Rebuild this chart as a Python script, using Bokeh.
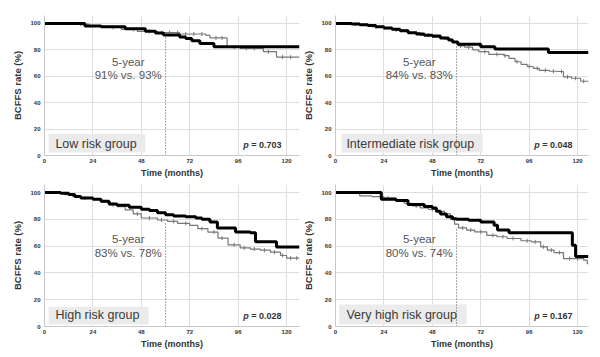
import numpy as np
from bokeh.plotting import figure
from bokeh.models import Range1d, BoxAnnotation, Label, FixedTicker
from bokeh.layouts import column, row
from bokeh.embed import file_html
from bokeh.resources import INLINE

# ---------------- data ----------------
groups = ["Low risk group", "Intermediate risk group", "High risk group", "Very high risk group"]
p_values = ["0.703", "0.048", "0.028", "0.167"]
five_yr_black = [91, 84, 83, 80]
five_yr_gray = [93, 83, 78, 74]
x_ticks = [0, 24, 48, 72, 96, 120]
y_ticks = [0, 20, 40, 60, 80, 100]

# Low risk
low_t_black = [0, 20, 28, 40, 50, 55, 59, 67, 70, 73, 77, 84]
low_s_black = [100, 98, 97.5, 96, 94, 92.8, 91.3, 89.8, 88.6, 86.8, 84.8, 82.3]
low_t_gray = [0, 14, 22, 30, 38, 46, 56, 67, 80, 82, 90.5, 97, 108.5, 115]
low_s_gray = [100, 99.5, 98, 97, 95.5, 94, 93, 92, 91, 89, 82, 81, 78.6, 74.5]
low_cens = [18, 34, 44, 52, 58, 62, 66, 70, 74, 78, 85, 88, 94, 100, 104, 111, 118, 122]

# Intermediate risk
int_t_black = [0, 8, 12, 16, 20, 24, 28, 32, 36, 40, 44, 48, 52, 56, 58, 60.6, 72, 79, 105.5]
int_s_black = [100, 99.5, 99, 98.5, 97.5, 96.5, 95.5, 94.5, 93, 92, 91, 90.5, 89, 87.5, 86, 84.2, 82.3, 80.6, 78]
int_t_gray = [0, 6, 12, 18, 24, 30, 36, 42, 48, 54, 58, 61, 64, 68, 71, 76, 83.5, 86, 89, 92, 95, 98, 101, 106, 110, 113, 117, 121.5]
int_s_gray = [100, 99.5, 98.5, 97.5, 96, 95, 93, 91, 89.5, 88, 86, 83, 82, 80, 78.6, 76.6, 75.6, 73.5, 71, 69, 67.4, 66, 64.4, 63.8, 63.6, 59.5, 58.5, 56.2]
int_cens = [10, 20, 30, 40, 46, 52, 62, 66, 74, 80, 84, 90, 96, 100, 104, 108, 112, 115, 119, 123]

# High risk
high_t_black = [0, 8, 12, 15, 18, 24, 28, 32, 36, 42, 48, 52, 56, 60, 64, 70, 75, 78, 82, 85.7, 94.7, 102, 104.6, 115]
high_s_black = [100, 99.5, 98.5, 97, 96, 95, 93.5, 91.5, 90.5, 89, 87.5, 86.5, 85, 83.5, 82.5, 82, 81, 80, 78, 73.6, 70.6, 70, 63.2, 59.3]
high_t_gray = [0, 6, 10, 14, 18, 24, 28, 32, 36, 40, 44, 48, 56, 61, 66, 72, 76, 81, 86, 91, 97, 102, 107, 112, 117, 120]
high_s_gray = [100, 99.5, 98.5, 97, 96, 95, 93, 91, 89.5, 87, 84, 81, 79.5, 78.5, 77, 75.5, 73, 70.5, 66, 61, 58.7, 57.8, 57, 55.5, 53, 51]
high_cens = [20, 34, 46, 52, 58, 64, 70, 78, 84, 88, 94, 99, 104, 109, 114, 118, 122, 125]

# Very high risk
vh_t_black = [0, 22.7, 30, 35.9, 44, 48, 50, 52, 55, 58, 60, 66, 72, 78.6, 80.3, 86, 117.4, 119]
vh_s_black = [100, 95, 94, 91, 89.5, 88.5, 86, 84, 82, 80.5, 80, 79.3, 78, 75.5, 72, 69.9, 60.7, 52.3]
vh_t_gray = [0, 12, 18, 24, 30, 34, 38, 42, 46, 50, 54, 57, 59, 61, 65, 69, 75, 80, 85, 92, 97, 101.7, 105, 108.3, 113, 123, 124.8]
vh_s_gray = [100, 97.5, 97, 96, 94, 92, 90, 88.5, 87.5, 86, 84, 80, 76.4, 73.6, 72, 70.6, 68, 67, 65.7, 64, 63.2, 59.5, 57, 55.2, 50.7, 49.5, 47]
vh_cens = [26, 40, 48, 63, 67, 72, 78, 83, 88, 95, 99, 103, 107, 111, 116, 120]

FONT = "Liberation Sans"


def step_xy(t, s, xend):
    return list(t) + [xend], list(s) + [s[-1]]


def make_panel(idx, tb, sb, tg, sg, cens, xend, left, top, box):
    height = 180 if top else 177
    p = figure(width=300, height=height,
               x_range=Range1d(0, xend), y_range=Range1d(0, 106),
               output_backend="svg", toolbar_location=None,
               min_border_left=44 if left else 34,
               min_border_right=1 if left else 12,
               min_border_top=15 if top else 4,
               min_border_bottom=23 if top else 31)
    p.outline_line_color = None
    p.background_fill_color = "white"
    p.border_fill_color = "white"

    p.xaxis.ticker = FixedTicker(ticks=x_ticks)
    p.yaxis.ticker = FixedTicker(ticks=y_ticks)
    for ax in (p.xaxis, p.yaxis):
        ax.major_tick_out = 0
        ax.major_tick_in = 0
        ax.minor_tick_out = 0
        ax.minor_tick_in = 0
        ax.axis_line_color = "#c8c8c8"
        ax.major_label_text_font = FONT
        ax.major_label_text_font_size = "6px"
        ax.major_label_text_font_style = "bold"
        ax.major_label_text_color = "#333333"
        ax.axis_label_text_font = FONT
        ax.axis_label_text_font_style = "bold"
        ax.axis_label_text_color = "#333333"
    p.xaxis.axis_label = "Time (months)"
    p.xaxis.axis_label_text_font_size = "9px"
    p.xaxis.major_label_standoff = 3
    p.xaxis.axis_label_standoff = 2
    p.yaxis.axis_label = "BCFFS rate (%)"
    p.yaxis.axis_label_text_font_size = "9.5px"
    p.yaxis.major_label_standoff = 4
    p.yaxis.axis_label_standoff = 4

    p.xgrid.ticker = FixedTicker(ticks=x_ticks[1:])
    p.ygrid.ticker = FixedTicker(ticks=y_ticks[1:])
    p.grid.grid_line_color = "#dedede"
    p.grid.grid_line_width = 1

    # group box and label
    p.add_layout(BoxAnnotation(left=box[0], right=box[1], bottom=box[2], top=box[3],
                               fill_color="#ebebeb", fill_alpha=1, line_color=None, level="underlay"))
    p.add_layout(Label(x=5.4, y=8.4, text=groups[idx], text_font=FONT, text_font_size="12.5px",
                       text_color="#3a3a3a", text_baseline="middle", text_align="left"))

    # 5-year reference line
    p.segment(x0=[60], y0=[0], x1=[60], y1=[min(five_yr_black[idx], five_yr_gray[idx])],
              line_color="#555555", line_dash="1 2", line_width=1)

    # curves
    xg, yg = step_xy(tg, sg, xend)
    p.step(xg, yg, mode="after", line_color="#777777", line_width=1.2)
    cy = [sg[int(np.searchsorted(tg, c, side="right")) - 1] for c in cens]
    p.scatter(cens, cy, marker="dash", angle=np.pi / 2, size=4, line_color="#777777", line_width=1)
    xb, yb = step_xy(tb, sb, xend)
    p.step(xb, yb, mode="after", line_color="#000000", line_width=3)

    # 5-year annotation
    ty = 71 if top else 65
    p.add_layout(Label(x=41.5, y=ty, text="5-year", text_font=FONT, text_font_size="11.5px",
                       text_color="#555555", text_align="center", text_baseline="middle"))
    p.add_layout(Label(x=41.5, y=ty - 10, text=f"{five_yr_black[idx]}% vs. {five_yr_gray[idx]}%",
                       text_font=FONT, text_font_size="11.5px",
                       text_color="#555555", text_align="center", text_baseline="middle"))

    # p-value
    p.add_layout(Label(x=98.5, y=8, text="p", text_font=FONT, text_font_size="9px",
                       text_font_style="bold italic", text_color="#333333", text_baseline="middle"))
    p.add_layout(Label(x=98.5, y=8, x_offset=8, text=f"= {p_values[idx]}", text_font=FONT,
                       text_font_size="9px", text_font_style="bold", text_color="#333333",
                       text_baseline="middle"))
    return p


p1 = make_panel(0, low_t_black, low_s_black, low_t_gray, low_s_gray, low_cens, 126.4, True, True,
                (2, 50, 2.2, 16.4))
p2 = make_panel(1, int_t_black, int_s_black, int_t_gray, int_s_gray, int_cens, 125.4, False, True,
                (3, 73, 2.2, 16.4))
p3 = make_panel(2, high_t_black, high_s_black, high_t_gray, high_s_gray, high_cens, 126.4, True, False,
                (2, 51.6, 1.5, 14.7))
p4 = make_panel(3, vh_t_black, vh_s_black, vh_t_gray, vh_s_gray, vh_cens, 125.4, False, False,
                (1.8, 65, 1.7, 16.4))

layout = column(row(p1, p2, spacing=0), row(p3, p4, spacing=0), spacing=0)
open("out.html", "w").write(file_html(layout, INLINE))
